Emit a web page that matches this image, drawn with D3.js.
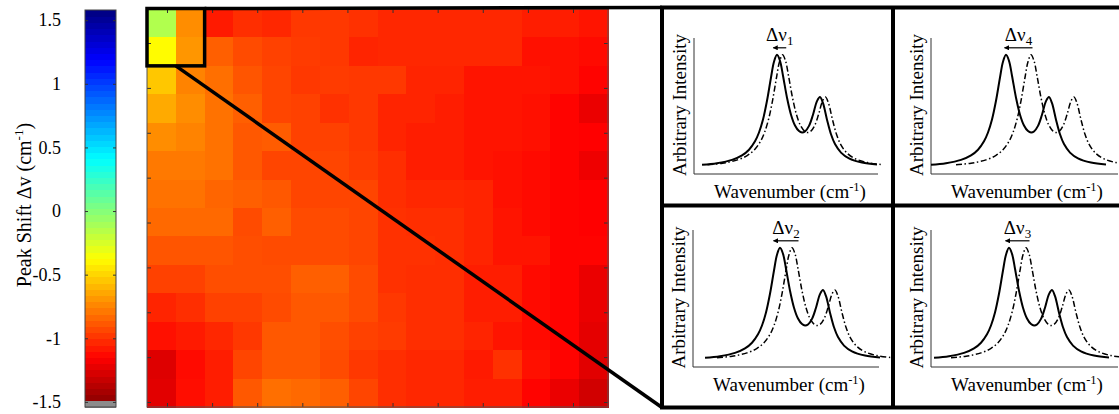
<!DOCTYPE html>
<html><head><meta charset="utf-8">
<script src="https://cdn.jsdelivr.net/npm/d3@7"></script>
<style>
body{margin:0;background:#fff}
svg{display:block}
text{font-family:"Liberation Serif","Times New Roman",serif;fill:#000}
</style>
</head><body>
<script>
// ---------------- DATA ----------------
// Peak shift map (cm^-1), 14 rows x 16 columns
const peakShiftRows = [
  [-0.13,-0.72,-1.07,-1.01,-1.03,-0.98,-0.98,-1.00,-1.03,-1.03,-1.03,-1.03,-1.03,-1.06,-1.06,-1.09],
  [-0.38,-0.69,-0.86,-0.92,-0.95,-0.97,-0.98,-1.04,-1.03,-1.03,-1.03,-1.03,-1.03,-1.10,-1.10,-1.12],
  [-0.54,-0.75,-0.81,-0.89,-0.94,-0.98,-0.97,-0.98,-0.98,-1.04,-1.04,-1.09,-1.09,-1.09,-1.10,-1.14],
  [-0.63,-0.72,-0.80,-0.86,-0.94,-0.95,-1.00,-0.98,-1.04,-1.04,-1.06,-1.09,-1.09,-1.10,-1.14,-1.21],
  [-0.72,-0.75,-0.80,-0.88,-0.87,-0.95,-0.95,-0.98,-1.04,-1.06,-1.06,-1.09,-1.09,-1.10,-1.14,-1.15],
  [-0.78,-0.78,-0.80,-0.88,-0.94,-0.94,-0.94,-0.97,-1.01,-1.06,-1.06,-1.09,-1.10,-1.12,-1.14,-1.20],
  [-0.80,-0.80,-0.84,-0.86,-0.88,-0.94,-0.94,-0.94,-1.01,-1.03,-1.03,-1.04,-1.10,-1.12,-1.14,-1.15],
  [-0.83,-0.83,-0.83,-0.92,-0.86,-0.92,-0.92,-0.94,-1.00,-1.01,-1.01,-1.04,-1.09,-1.12,-1.14,-1.15],
  [-0.89,-0.89,-0.89,-0.91,-0.92,-0.92,-0.92,-0.94,-1.00,-1.00,-1.01,-1.04,-1.09,-1.09,-1.14,-1.14],
  [-0.95,-0.95,-0.91,-0.91,-0.91,-0.86,-0.86,-0.92,-1.00,-1.01,-1.01,-1.06,-1.06,-1.12,-1.14,-1.21],
  [-1.04,-1.01,-0.95,-0.95,-0.92,-0.88,-0.88,-0.92,-0.98,-1.01,-1.01,-1.06,-1.06,-1.12,-1.14,-1.21],
  [-1.10,-1.07,-1.03,-0.98,-0.88,-0.88,-0.91,-0.95,-0.97,-1.01,-1.01,-1.04,-1.09,-1.12,-1.14,-1.23],
  [-1.25,-1.12,-1.06,-0.94,-0.88,-0.88,-0.92,-0.98,-1.01,-1.03,-1.03,-1.07,-1.00,-1.10,-1.14,-1.24],
  [-1.24,-1.11,-1.06,-0.88,-0.81,-0.83,-0.86,-0.94,-1.01,-1.03,-1.03,-1.06,-1.06,-1.14,-1.21,-1.29]
];
const colorRange = [-1.54, 1.58];           // colour bar limits
const colorbarTicks = [1.5, 1, 0.5, 0, -0.5, -1, -1.5];
const mapXTicks = [1,2,3,4,5,6,7,8,9,10];
const mapYTicks = [1,2,3,4,5,6,7,8,9];
const mapXExtent = [0.557, 10.776];
const mapYExtent = [0.242, 9.111];

// Reference spectrum (offset from main peak, arbitrary intensity)
const spectrumX = [-75,-60,-45,-35,-28,-22,-18,-14,-10,-6,-3,0,3,6,10,14,18,22,25,28,32,36,40,43,46,50,54,58,64,72,85,100];
const spectrumY = [9.2,10.8,14.1,18.6,24.3,32.7,41.5,54.5,73.2,96.5,112.3,119.2,113.2,98.3,76.3,59.3,48.5,42.9,41.5,42.5,48.1,59.3,72.9,77.0,70.8,54.3,39.7,29.9,21.4,15.6,11.4,9.4];
const peakTop = 119.2;
// Inset panels: top-left, top-right, bottom-left, bottom-right
const panelIndex = ["1","4","2","3"];
const solidPeakPos = [83, 75, 87, 78];
const peakShift = [5.5, 25, 12, 17];
const arrowSpan = [13, 28, 25, 24];

// ---------------- LAYOUT ----------------
const W = 1119, H = 414;
const FONT = '"Liberation Serif","Times New Roman",serif';
const svg = d3.select("body").append("svg").attr("width", W).attr("height", H);
const font = 19;

function jet(t){
  const c = v => Math.max(0, Math.min(1, v));
  const r = c(1.5 - Math.abs(4*t - 3)), g = c(1.5 - Math.abs(4*t - 2)), b = c(1.5 - Math.abs(4*t - 1));
  return d3.rgb(r*255, g*255, b*255).toString();
}
const colorOf = v => jet(1 - (v - colorRange[0]) / (colorRange[1] - colorRange[0]));

// ---- colour bar ----
const cb = {left:85, right:116, top:10, bottom:407};
const cbY = d3.scaleLinear().domain(colorRange).range([cb.bottom, cb.top]);
const nLev = 64, step = (colorRange[1]-colorRange[0]) / nLev;
svg.append("g").selectAll("rect").data(d3.range(nLev)).join("rect")
  .attr("x", cb.left).attr("width", cb.right - cb.left)
  .attr("y", k => cbY(colorRange[0] + (k+1)*step))
  .attr("height", k => cbY(colorRange[0] + k*step) - cbY(colorRange[0] + (k+1)*step) + 0.6)
  .attr("fill", k => k === 0 ? "#8c8c8c" : colorOf(colorRange[0] + (k+0.5)*step))
  .attr("shape-rendering","crispEdges");
svg.append("rect").attr("x", cb.left).attr("y", cb.top).attr("width", cb.right-cb.left).attr("height", cb.bottom-cb.top)
  .attr("fill","none").attr("stroke","#444").attr("stroke-width",1);
const cbAxL = svg.append("g").attr("transform",`translate(${cb.left},0)`)
  .call(d3.axisLeft(cbY).tickValues(colorbarTicks).tickSize(-3).tickPadding(24).tickFormat(d => String(d)));
cbAxL.select(".domain").remove();
cbAxL.attr("font-family", null).attr("font-size", null);
cbAxL.selectAll("text").style("font-family", FONT).style("font-size", "18px");
cbAxL.selectAll("line").attr("stroke","#333");
const cbAxR = svg.append("g").attr("transform",`translate(${cb.right},0)`)
  .call(d3.axisRight(cbY).tickValues(colorbarTicks).tickSize(-3).tickFormat(""));
cbAxR.select(".domain").remove();
cbAxR.selectAll("line").attr("stroke","#333");

const cbTitle = svg.append("text").attr("transform","translate(31,205) rotate(-90)")
  .attr("text-anchor","middle").style("font-size", "20px");
cbTitle.append("tspan").text("Peak Shift Δv (cm");
cbTitle.append("tspan").text("-1").style("font-size", "13px").attr("dy", -8);
cbTitle.append("tspan").text(")").style("font-size", "20px").attr("dy", 8);

// ---- heat map ----
const hm = {left:147, right:608, top:9, bottom:407};
const nRows = peakShiftRows.length, nCols = peakShiftRows[0].length;
const xB = d3.scaleBand().domain(d3.range(nCols)).range([hm.left, hm.right]);
const yB = d3.scaleBand().domain(d3.range(nRows)).range([hm.top, hm.bottom]);
const cells = [];
peakShiftRows.forEach((row, r) => row.forEach((v, c) => cells.push({r, c, v})));
svg.append("g").selectAll("rect").data(cells).join("rect")
  .attr("x", d => xB(d.c)).attr("y", d => yB(d.r))
  .attr("width", xB.bandwidth() + 0.6).attr("height", yB.bandwidth() + 0.6)
  .attr("fill", d => colorOf(d.v)).attr("shape-rendering","crispEdges");

const xAx = d3.scaleLinear().domain(mapXExtent).range([hm.left, hm.right]);
const yAx = d3.scaleLinear().domain(mapYExtent).range([hm.top, hm.bottom]);
function tickAxis(axis, tx, ty){
  const g = svg.append("g").attr("transform",`translate(${tx},${ty})`).call(axis);
  g.select(".domain").remove();
  g.selectAll("line").attr("stroke","#333");
}
tickAxis(d3.axisBottom(xAx).tickValues(mapXTicks).tickSize(-4).tickFormat(""), 0, hm.bottom);
tickAxis(d3.axisTop(xAx).tickValues(mapXTicks).tickSize(-4).tickFormat(""), 0, hm.top);
tickAxis(d3.axisLeft(yAx).tickValues(mapYTicks).tickSize(-4).tickFormat(""), hm.left, 0);
tickAxis(d3.axisRight(yAx).tickValues(mapYTicks).tickSize(-4).tickFormat(""), hm.right, 0);
svg.append("rect").attr("x", hm.left).attr("y", hm.top).attr("width", hm.right-hm.left).attr("height", hm.bottom-hm.top)
  .attr("fill","none").attr("stroke","#555").attr("stroke-width",1);

// ---- inset frame ----
const box = {left:662, right:1122, top:7.5, bottom:407.5, midX:893, midY:205.5};
const zoomRect = {x0: xB(0), x1: xB(2), y0: yB(0), y1: yB(2)};
svg.append("line").attr("x1", zoomRect.x1).attr("y1", zoomRect.y0 - 0.5).attr("x2", box.left).attr("y2", box.top)
  .attr("stroke","#000").attr("stroke-width",3.5);
svg.append("line").attr("x1", xB(1)).attr("y1", zoomRect.y1).attr("x2", box.left).attr("y2", box.bottom)
  .attr("stroke","#000").attr("stroke-width",3.5);
svg.append("rect").attr("x", zoomRect.x0).attr("y", zoomRect.y0 - 0.5)
  .attr("width", zoomRect.x1 - zoomRect.x0).attr("height", zoomRect.y1 - zoomRect.y0 + 0.5)
  .attr("fill","none").attr("stroke","#000").attr("stroke-width",3.5);
svg.append("rect").attr("x", box.left).attr("y", box.top).attr("width", box.right-box.left).attr("height", box.bottom-box.top)
  .attr("fill","#fff").attr("stroke","#000").attr("stroke-width",4);
svg.append("line").attr("x1", box.midX).attr("x2", box.midX).attr("y1", box.top).attr("y2", box.bottom).attr("stroke","#000").attr("stroke-width",4);
svg.append("line").attr("x1", box.left).attr("x2", box.right).attr("y1", box.midY).attr("y2", box.midY).attr("stroke","#000").attr("stroke-width",4);

// arrow marker (tip at line end)
svg.append("defs").append("marker").attr("id","arr").attr("viewBox","0 0 10 10")
  .attr("refX",9).attr("refY",5).attr("markerWidth",6).attr("markerHeight",5).attr("orient","auto")
  .attr("markerUnits","userSpaceOnUse")
  .append("path").attr("d","M0,0 L10,5 L0,10 Z").attr("fill","#000");

const panelLayout = [
  {x0:694, x1:878, y0:38, y1:174},
  {x0:931, x1:1118, y0:38, y1:174},
  {x0:693, x1:879, y0:230, y1:367},
  {x0:931, x1:1118, y0:230, y1:367}
];
const spectrum = spectrumX.map((x, i) => [x, spectrumY[i]]);

panelLayout.forEach((L, i) => {
  const g = svg.append("g");
  const xs = d3.scaleLinear().domain([0, 185]).range([L.x0, L.x0 + 185]);
  const ys = d3.scaleLinear().domain([0, 136]).range([L.y1, L.y1 - 136]);
  // axes
  g.append("path").attr("d", `M${L.x0},${L.y0}V${L.y1}H${L.x1}`)
    .attr("fill","none").attr("stroke","#333").attr("stroke-width",1);
  const p = solidPeakPos[i], s = peakShift[i];
  const lineSolid = d3.line().x(d => xs(p + d[0])).y(d => ys(d[1])).curve(d3.curveCatmullRom.alpha(0.5));
  const lineShift = d3.line().x(d => xs(p + s + d[0])).y(d => ys(d[1])).curve(d3.curveCatmullRom.alpha(0.5));
  g.append("path").attr("d", lineShift(spectrum)).attr("fill","none").attr("stroke","#000")
    .attr("stroke-width",1.5).attr("stroke-dasharray","6,2.5,1.5,2.5");
  g.append("path").attr("d", lineSolid(spectrum)).attr("fill","none").attr("stroke","#000").attr("stroke-width",2);
  // labels
  g.append("text").attr("transform", `translate(${L.x0 - 8},${(L.y0 + L.y1)/2 - 1}) rotate(-90)`)
    .attr("text-anchor","middle").style("font-size", font + "px").text("Arbitrary Intensity");
  const wn = g.append("text").attr("x", L.x0 + 96).attr("y", L.y1 + 24).attr("text-anchor","middle").style("font-size", font + "px");
  wn.append("tspan").text("Wavenumber (cm");
  wn.append("tspan").text("-1").style("font-size", "12.5px").attr("dy", -7);
  wn.append("tspan").text(")").style("font-size", font + "px").attr("dy", 7);
  const cx = xs(p + s/2), py = ys(peakTop);
  const dl = g.append("text").attr("x", cx).attr("y", py - 14).attr("text-anchor","middle").style("font-size", font + "px");
  dl.append("tspan").text("Δν");
  dl.append("tspan").text(panelIndex[i]).style("font-size", "13px").attr("dy", 4);
  g.append("line").attr("x1", cx + arrowSpan[i]/2).attr("x2", cx - arrowSpan[i]/2)
    .attr("y1", py - 7).attr("y2", py - 7).attr("stroke","#000").attr("stroke-width",1.2)
    .attr("marker-end","url(#arr)");
});
</script>
</body></html>
